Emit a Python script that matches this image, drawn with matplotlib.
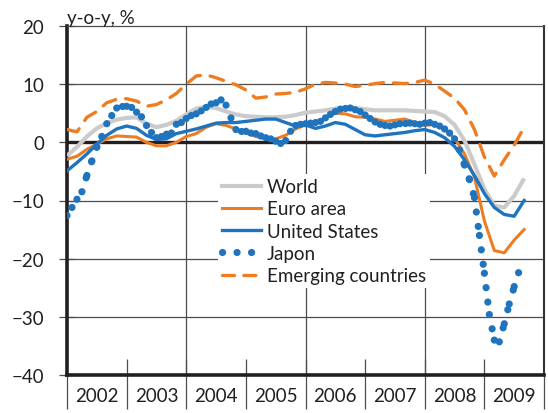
import numpy as np
import matplotlib
matplotlib.use("Agg")
import matplotlib.pyplot as plt
from matplotlib.collections import LineCollection
from matplotlib.lines import Line2D

plt.rcParams['font.family'] = ['Lato', 'DejaVu Sans']

#---- data (y-o-y, %) ----
# smooth series sampled every two months from Jan 2002
t2 = 2002 + np.arange(47) / 6.0

world = [-2.3, -0.8, 1.0, 2.4, 3.3, 3.9, 4.2, 4.3, 3.2, 2.6,
         3.0, 3.7, 4.8, 5.8, 6.1, 5.9, 5.3, 4.8, 4.5, 4.4,
         4.3, 4.3, 4.4, 4.7, 5.1, 5.3, 5.5, 5.8, 6.0, 5.9,
         5.7, 5.5, 5.5, 5.5, 5.5, 5.4, 5.3, 5.2, 4.5, 3.0,
         0.3, -3.8, -8.0, -10.9, -11.2, -9.2, -6.2]

euro = [-2.9, -2.4, -1.2, -0.3, 0.6, 1.1, 1.0, 0.9, 0.0, -0.6,
        -0.6, 0.0, 1.0, 1.5, 2.6, 3.2, 2.9, 2.3, 1.6, 1.0,
        0.6, 0.6, 1.2, 2.3, 3.0, 3.2, 4.3, 5.0, 4.9, 4.4,
        4.3, 4.0, 3.6, 3.8, 4.0, 3.4, 2.9, 3.1, 2.3, 0.7,
        -2.0, -6.0, -13.5, -18.6, -19.0, -16.8, -15.0]

us = [-4.9, -3.5, -2.0, -0.3, 1.2, 2.3, 2.8, 2.4, 1.2, 0.5,
      0.6, 1.5, 1.9, 2.3, 2.8, 3.3, 3.4, 3.4, 3.6, 3.8,
      4.0, 4.0, 3.4, 2.8, 3.0, 2.4, 2.8, 3.4, 3.1, 2.2,
      1.3, 1.1, 1.3, 1.5, 1.7, 2.0, 2.2, 1.7, 0.8, -0.7,
      -3.0, -5.7, -8.8, -11.2, -12.4, -12.7, -10.0]

emerging = [2.2, 1.8, 4.3, 5.3, 6.8, 7.4, 7.5, 7.1, 6.2, 6.5,
            7.3, 8.4, 10.0, 11.4, 11.6, 11.1, 10.5, 9.9, 9.0, 7.6,
            7.8, 8.3, 8.4, 8.6, 9.2, 10.0, 10.3, 10.2, 10.0, 9.6,
            9.8, 10.1, 10.3, 10.2, 10.1, 10.3, 10.7, 10.0, 8.8, 7.6,
            5.6, 2.2, -2.5, -5.8, -3.0, -0.5, 2.6]

# Japan, monthly from Jan 2002
t1 = 2002 + np.arange(92) / 12.0
japan = [-12.6, -11.2, -9.8, -8.5, -5.7, -3.2, -0.8, 1.0, 3.2, 4.6,
         5.9, 6.2, 6.2, 6.0, 5.2, 4.4, 2.9, 1.7, 0.8, 1.0,
         1.4, 1.6, 3.1, 3.4, 4.1, 4.6, 4.9, 5.4, 6.0, 6.6,
         6.8, 7.3, 6.4, 4.2, 2.2, 1.9, 1.9, 1.6, 1.5, 1.1,
         0.8, 0.6, 0.2, -0.2, 0.3, 1.9, 2.9, 3.1, 3.2, 3.3,
         3.4, 3.6, 4.2, 4.8, 5.3, 5.7, 5.9, 5.9, 5.6, 5.3,
         4.7, 4.1, 3.5, 3.1, 2.9, 2.8, 3.0, 3.2, 3.3, 3.3,
         3.2, 3.1, 3.3, 3.4, 3.1, 2.8, 2.3, 1.6, 0.6, -1.3,
         -3.9, -6.4, -9.5, -16.0, -22.5, -29.6, -34.0, -34.3, -31.2, -27.8,
         -24.8, -22.1]

years = list(range(2002, 2010))
labels = ['World', 'Euro area', 'United States', 'Japon', 'Emerging countries']

grey = '#cbcbcb'
orange = '#ee7d22'
blue = '#1f74bd'
ink = '#231f20'
fs = 13.5

#---- figure ----
fig = plt.figure(figsize=(5.48, 4.14), dpi=100)
ax = fig.add_axes([67/548, 38/414, 477/548, 349/414])

ax.set_xlim(2002, 2010)
ax.set_ylim(-40, 20)

# grid
for v in [-30, -20, -10, 10]:
    ax.axhline(v, color='#4d4d4d', lw=0.9, zorder=1)
for yr in [2004, 2006, 2008]:
    ax.axvline(yr, color='#4d4d4d', lw=0.9, zorder=1)
ax.axhline(0, color=ink, lw=2.4, zorder=2)
ax.vlines(years[1:], -40, -37.2, color='#4d4d4d', lw=0.9, zorder=1)

ax.plot(t2, world, color=grey, lw=3.0, solid_capstyle='butt', zorder=3)
ax.plot(t2, euro, color=orange, lw=2.2, zorder=4)
ax.plot(t2, us, color=blue, lw=2.4, zorder=5)

# japan: dotted, pattern restarts at every month
pts = np.column_stack([t1, japan])
segs = np.stack([pts[:-1], pts[1:]], axis=1)
jp = LineCollection(segs, colors=blue, linewidths=5.2,
                    linestyles=[(0, (0.01, 2.0))], capstyle='round', zorder=6)
ax.add_collection(jp)

ax.plot(t2, emerging, color=orange, lw=2.4, linestyle=(0, (4.2, 3.0)),
        dash_capstyle='round', zorder=7)

# spines
ax.spines['left'].set_linewidth(2.6)
ax.spines['bottom'].set_linewidth(2.6)
ax.spines['left'].set_color(ink)
ax.spines['bottom'].set_color(ink)
ax.spines['right'].set_linewidth(1.5)
ax.spines['right'].set_color('#333333')
ax.spines['top'].set_linewidth(0.9)
ax.spines['top'].set_color('#4d4d4d')

# ticks
ax.set_yticks(range(-40, 21, 10))
ax.tick_params(axis='y', direction='inout', length=11, width=0.9, color='#4d4d4d',
               labelsize=fs, labelcolor=ink, pad=11)
ax.set_xticks(years + [2010])
ax.set_xticklabels([])
ax.tick_params(axis='x', which='major', direction='out', length=24.5, width=0.9, color='#4d4d4d')
ax.set_xticks([y + 0.5 for y in years], minor=True)
ax.set_xticklabels([str(y) for y in years], minor=True)
ax.tick_params(axis='x', which='minor', length=0, labelsize=fs, labelcolor=ink, pad=9)

ax.text(0.0, 20.5, 'y-o-y, %', fontsize=fs, color=ink, ha='left', va='baseline',
        transform=ax.get_yaxis_transform(which='grid'), clip_on=False)

# legend
handles = [Line2D([], [], color=grey, lw=3.0),
           Line2D([], [], color=orange, lw=2.2),
           Line2D([], [], color=blue, lw=2.4),
           Line2D([], [], color=blue, lw=5.2, linestyle=(0, (0.01, 2.0)), dash_capstyle='round'),
           Line2D([], [], color=orange, lw=2.4, linestyle=(0, (3.6, 2.8)), dash_capstyle='round')]
leg = ax.legend(handles, labels, loc='upper left', bbox_to_anchor=(0.317, 0.575),
                frameon=True, fancybox=False, edgecolor='none', facecolor='white', framealpha=1,
                fontsize=fs, handlelength=2.1, handletextpad=0.3, labelspacing=0.28,
                borderpad=0.2, borderaxespad=0)
leg.set_zorder(2.5)
for txt in leg.get_texts():
    txt.set_color(ink)

fig.savefig('out.png', dpi=100)
